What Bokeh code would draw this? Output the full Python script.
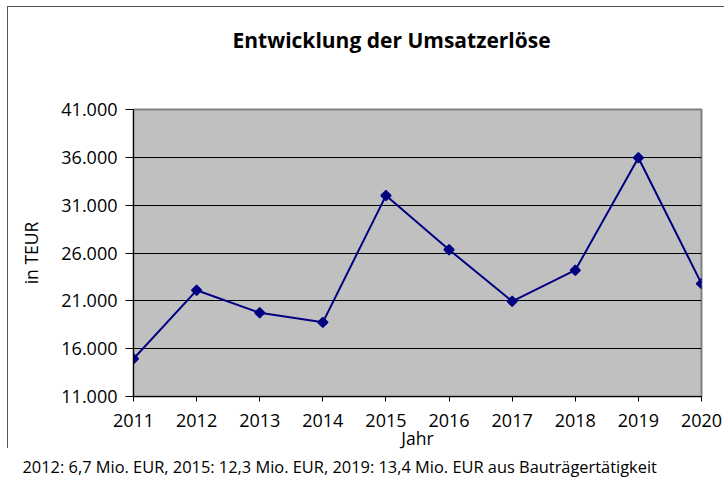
from bokeh.plotting import figure
from bokeh.models import Range1d, FixedTicker, Title
from bokeh.embed import file_html
from bokeh.resources import INLINE

years = [2011, 2012, 2013, 2014, 2015, 2016, 2017, 2018, 2019, 2020]
umsatz = [14950, 22100, 19750, 18750, 32000, 26350, 20950, 24200, 35950, 22800]
y_ticks = [11000, 16000, 21000, 26000, 31000, 36000, 41000]
y_tick_labels = ["11.000", "16.000", "21.000", "26.000", "31.000", "36.000", "41.000"]
title_text = "Entwicklung der Umsatzerlöse"
x_label = "Jahr"
y_label = "in TEUR"
footnote = "2012: 6,7 Mio. EUR, 2015: 12,3 Mio. EUR, 2019: 13,4 Mio. EUR aus Bauträgertätigkeit"

FONT = "Open Sans"

p = figure(width=724, height=489, output_backend="svg", toolbar_location=None,
           x_range=Range1d(years[0], years[-1]), y_range=Range1d(y_ticks[0], y_ticks[-1]),
           min_border_left=133, min_border_right=23, min_border_top=109, min_border_bottom=93)
p.background_fill_color = "#c0c0c0"
p.border_fill_alpha = 0
p.outline_line_color = "#808080"
p.outline_line_width = 2
# outer chart frame (left and top edges visible), drawn behind the transparent canvas border
p.styles = {
    "background": "linear-gradient(#555,#555) 7px 6px / 717px 1px no-repeat, "
                  "linear-gradient(#555,#555) 7px 6px / 1px 442px no-repeat, white",
}

# axes
p.xaxis.ticker = FixedTicker(ticks=years)
p.yaxis.ticker = FixedTicker(ticks=y_ticks)
p.yaxis.major_label_overrides = {t: l for t, l in zip(y_ticks, y_tick_labels)}
for ax in (p.xaxis[0], p.yaxis[0]):
    ax.axis_line_color = "black"
    ax.axis_line_width = 1
    ax.major_tick_line_color = "black"
    ax.major_tick_in = 0
    ax.minor_tick_line_color = None
    ax.major_label_text_font = FONT
    ax.major_label_text_font_size = "18px"
    ax.major_label_text_color = "black"
    ax.axis_label_text_font = FONT
    ax.axis_label_text_font_size = "17.5px"
    ax.axis_label_text_font_style = "normal"
    ax.axis_label_text_color = "black"
p.xaxis.major_tick_out = 5
p.xaxis.major_label_standoff = 12
p.xaxis.axis_label = x_label
p.xaxis.axis_label_standoff = -4
p.yaxis.major_tick_out = 8
p.yaxis.major_label_standoff = 8
p.yaxis.axis_label = y_label
p.yaxis.axis_label_standoff = 15

p.xgrid.grid_line_color = None
p.ygrid.ticker = FixedTicker(ticks=y_ticks)
p.ygrid.grid_line_color = "black"
p.ygrid.grid_line_width = 1

# data
p.line(years, umsatz, line_color="#000080", line_width=2)
p.scatter(years, umsatz, marker="square", angle=0.785398, size=7,
          fill_color="#000080", line_color="#000080", line_width=1.5)

# spacer between frame and title, then the title
p.add_layout(Title(text=" ", standoff=48, text_font_size="1px"), "above")
p.add_layout(Title(text=title_text, align="left", offset=99, standoff=10,
                   text_font=FONT, text_font_size="21px", text_font_style="bold",
                   text_color="black"), "above")
p.add_layout(Title(text=footnote, align="left", offset=-111, standoff=0,
                   text_font=FONT, text_font_size="16.4px", text_font_style="normal",
                   text_color="black"), "below")

open("out.html", "w").write(file_html(p, INLINE))
